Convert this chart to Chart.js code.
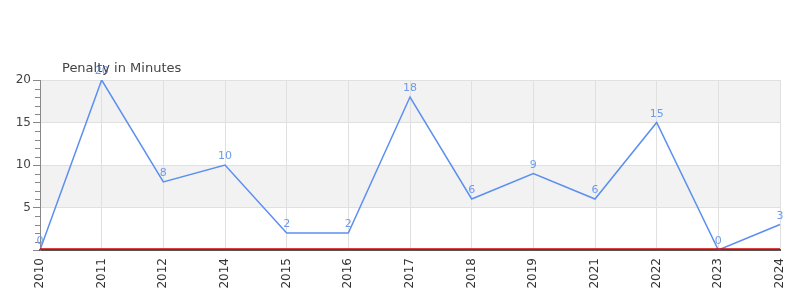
<!DOCTYPE html>
<html>
<head>
<meta charset="utf-8">
<script src="https://cdn.jsdelivr.net/npm/chart.js@4"></script>
<style>
  body { margin: 0; background: #fff; }
  #wrap { width: 800px; height: 300px; }
</style>
</head>
<body>
<div id="wrap"><canvas id="chart" width="800" height="300"></canvas></div>
<script>
const years = ['2010', '2011', '2012', '2014', '2015', '2016', '2017', '2018', '2019', '2021', '2022', '2023', '2024'];
const penalties = [0, 20, 8, 10, 2, 2, 18, 6, 9, 6, 15, 0, 3];
const bandRanges = [[5, 10], [15, 20]];
const chartTitle = 'Penalty in Minutes';

const FONT = 'DejaVu Sans';

// striped background behind the grid
const bands = {
  id: 'bands',
  beforeDraw(chart) {
    const { ctx, chartArea, scales } = chart;
    ctx.save();
    ctx.fillStyle = '#f2f2f2';
    bandRanges.forEach(([lo, hi]) => {
      const y1 = scales.y.getPixelForValue(hi);
      const y2 = scales.y.getPixelForValue(lo);
      ctx.fillRect(chartArea.left, y1, chartArea.right - chartArea.left, y2 - y1);
    });
    ctx.restore();
  }
};

// minor ticks, red base line, point labels, title
const extras = {
  id: 'extras',
  afterDraw(chart) {
    const { ctx, chartArea, scales } = chart;
    ctx.save();
    ctx.strokeStyle = '#888';
    ctx.lineWidth = 1;
    for (let v = 1; v < 20; v++) {
      if (v % 5 === 0) continue;
      const y = Math.round(scales.y.getPixelForValue(v)) + 0.5;
      ctx.beginPath();
      ctx.moveTo(chartArea.left - 5, y);
      ctx.lineTo(chartArea.left, y);
      ctx.stroke();
    }
    // red zero line sitting on top of the dark axis line
    const y0 = scales.y.getPixelForValue(0) - 1;
    ctx.strokeStyle = '#d40000';
    ctx.lineWidth = 1.5;
    ctx.beginPath();
    ctx.moveTo(chartArea.left, y0);
    ctx.lineTo(chartArea.right, y0);
    ctx.stroke();

    const meta = chart.getDatasetMeta(0);
    ctx.fillStyle = '#6f9bea';
    ctx.font = '11px ' + FONT;
    ctx.textAlign = 'center';
    ctx.textBaseline = 'bottom';
    meta.data.forEach((pt, i) => {
      ctx.fillText(String(penalties[i]), pt.x, pt.y - 3);
    });

    ctx.fillStyle = '#444';
    ctx.font = '13px ' + FONT;
    ctx.textAlign = 'left';
    ctx.textBaseline = 'alphabetic';
    ctx.fillText(chartTitle, chartArea.left + 22, chartArea.top - 8);
    ctx.restore();
  }
};

new Chart(document.getElementById('chart'), {
  type: 'line',
  data: {
    labels: years,
    datasets: [{
      data: penalties,
      borderColor: '#5b8ff0',
      borderWidth: 1.5,
      pointRadius: 0,
      tension: 0,
      fill: false
    }]
  },
  options: {
    responsive: false,
    animation: false,
    layout: { padding: { top: 80, right: 20, bottom: 2, left: 0 } },
    plugins: { legend: { display: false }, tooltip: { enabled: false } },
    scales: {
      x: {
        offset: false,
        afterFit(scale) { scale.paddingRight = 0; scale.paddingLeft = 0; scale.height = 48; },
        grid: { color: '#e0e0e0', drawTicks: false },
        border: { color: '#555', width: 2 },
        ticks: { minRotation: 90, maxRotation: 90, padding: 8, color: '#333', font: { family: FONT, size: 12 } }
      },
      y: {
        min: 0,
        max: 20,
        afterFit(scale) { scale.width = 40; },
        grid: { color: '#e0e0e0', tickLength: 7, tickColor: '#888' },
        border: { color: '#888', width: 1 },
        ticks: {
          stepSize: 5,
          padding: 2,
          color: '#444',
          font: { family: FONT, size: 12 },
          callback: v => (v === 0 ? '' : v)
        }
      }
    }
  },
  plugins: [bands, extras]
});
</script>
</body>
</html>
